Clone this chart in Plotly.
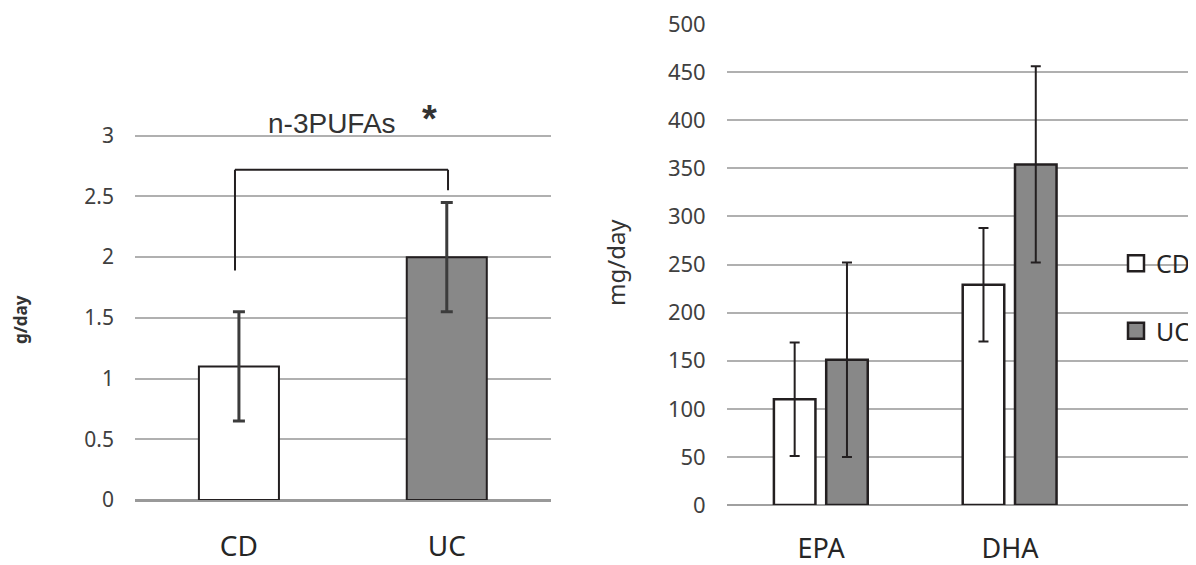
import plotly.graph_objects as go

# ---- data ----
left_groups = ["CD", "UC"]
n3_values = [1.1, 2.0]
n3_errors = [0.45, 0.45]

fa_categories = ["EPA", "DHA"]
cd_values = [110, 229]
cd_errors = [59, 59]
uc_values = [151, 354]
uc_errors = [101, 102]

left_ticks = [0, 0.5, 1, 1.5, 2, 2.5, 3]
left_ticktext = ["0", "0.5", "1", "1.5", "2", "2.5", "3"]
right_ticks = [0, 50, 100, 150, 200, 250, 300, 350, 400, 450, 500]
legend_names = ["CD", "UC"]

# significance bracket (data units)
bracket_left_base = 1.89
bracket_top = 2.72
bracket_right_base = 2.55

# the page body adds an 8 px margin; size the figure so it fills the window
OFF = 8
W, H = 1196 - OFF, 565 - OFF
WHITE = "#ffffff"
GRAY = "#888888"
EDGE = "#231f20"
GRID = "#b0b0b0"
TICKC = "#404040"
FONT = "Noto Sans"


def xp(px):
    return (px - OFF) / W


def yp(py):
    return 1 - (py - OFF) / H


fig = go.Figure()

# Left panel: n-3 PUFAs
fig.add_trace(go.Bar(
    x=list(range(len(left_groups))), y=n3_values,
    width=0.385,
    marker=dict(color=[WHITE, GRAY], line=dict(color=EDGE, width=2)),
    error_y=dict(type="data", array=n3_errors, color="#3c3c3c", thickness=3, width=6),
    showlegend=False, xaxis="x", yaxis="y",
))

# Right panel: EPA / DHA
fig.add_trace(go.Bar(
    name=legend_names[0], x=list(range(len(fa_categories))), y=cd_values,
    width=0.22, offset=-0.25,
    marker=dict(color=WHITE, line=dict(color=EDGE, width=2.5)),
    error_y=dict(type="data", array=cd_errors, color=EDGE, thickness=2, width=5),
    showlegend=False, xaxis="x2", yaxis="y2",
))
fig.add_trace(go.Bar(
    name=legend_names[1], x=list(range(len(fa_categories))), y=uc_values,
    width=0.22, offset=0.027,
    marker=dict(color=GRAY, line=dict(color=EDGE, width=2.5)),
    error_y=dict(type="data", array=uc_errors, color=EDGE, thickness=2, width=5),
    showlegend=False, xaxis="x2", yaxis="y2",
))

# legend entries (larger square keys)
for name, col, grp in [(legend_names[0], WHITE, "a"), (legend_names[1], GRAY, "b")]:
    fig.add_trace(go.Scatter(
        name=name, x=[None], y=[None], mode="markers",
        marker=dict(symbol="square", size=16, color=col, line=dict(color=EDGE, width=2.5)),
        legendgroup=grp, xaxis="x2", yaxis="y2",
    ))

# bracket
bx0, bx1 = -0.019, 1.006
for (xa, ya, xb, yb) in [
    (bx0, bracket_left_base, bx0, bracket_top),
    (bx0, bracket_top, bx1, bracket_top),
    (bx1, bracket_top, bx1, bracket_right_base),
]:
    fig.add_shape(type="line", xref="x", yref="y", x0=xa, y0=ya, x1=xb, y1=yb,
                  line=dict(color=EDGE, width=2))

fig.add_annotation(text="n-3PUFAs", x=xp(332), y=yp(124), xref="paper", yref="paper",
                   showarrow=False, xanchor="center", yanchor="middle",
                   font=dict(family="Liberation Sans", size=28, color="#333333"))
fig.add_annotation(text="<b>*</b>", x=xp(429), y=yp(119), xref="paper", yref="paper",
                   showarrow=False, xanchor="center", yanchor="middle",
                   font=dict(family="Liberation Sans", size=38, color="#333333"))
fig.add_annotation(text="<b>g/day</b>", x=xp(20), y=yp(320), xref="paper", yref="paper",
                   showarrow=False, textangle=-90, xanchor="center", yanchor="middle",
                   font=dict(family=FONT, size=17, color="#333333"))
fig.add_annotation(text="mg/day", x=xp(615), y=yp(263), xref="paper", yref="paper",
                   showarrow=False, textangle=-90, xanchor="center", yanchor="middle",
                   font=dict(family=FONT, size=24, color="#333333"))

axis_common = dict(showline=False, ticks="", fixedrange=True, automargin=False,
                   ticklabeloverflow="allow")

fig.update_layout(
    width=W, height=H,
    margin=dict(l=0, r=0, t=0, b=0, autoexpand=False),
    paper_bgcolor="white", plot_bgcolor="white",
    barmode="overlay",
    font=dict(family=FONT, color=TICKC),
    xaxis=dict(domain=[xp(135), xp(550.7)], range=[-0.5, 1.5],
               tickvals=list(range(len(left_groups))), ticktext=left_groups,
               showgrid=False, zeroline=False, ticklabelstandoff=27,
               tickfont=dict(size=28, color="#262626"), **axis_common),
    yaxis=dict(domain=[yp(500), yp(134.5)], range=[0, 3.01],
               tickvals=left_ticks, ticktext=left_ticktext,
               showgrid=True, gridcolor=GRID, gridwidth=1.5,
               zeroline=True, zerolinecolor="#999999", zerolinewidth=2.5,
               ticklabelstandoff=20, tickfont=dict(size=21, color=TICKC), **axis_common),
    xaxis2=dict(domain=[xp(726.7), 1.0], range=[-0.5, 1.944 + OFF / 192.5],
                tickvals=list(range(len(fa_categories))), ticktext=fa_categories,
                showgrid=False, zeroline=False, ticklabelstandoff=25,
                tickfont=dict(size=27, color="#262626"), anchor="y2", **axis_common),
    yaxis2=dict(domain=[yp(505), yp(23.04)], range=[0, 501],
                tickvals=right_ticks, anchor="x2",
                showgrid=True, gridcolor=GRID, gridwidth=1.5,
                zeroline=True, zerolinecolor="#a0a0a0", zerolinewidth=2,
                ticklabelstandoff=20, tickfont=dict(size=22, color=TICKC), **axis_common),
    legend=dict(x=xp(1116), y=yp(297), xanchor="left", yanchor="middle",
                bgcolor="rgba(0,0,0,0)", traceorder="grouped", tracegroupgap=32,
                font=dict(family=FONT, size=25, color="#262626")),
)

fig.write_html("out.html")
